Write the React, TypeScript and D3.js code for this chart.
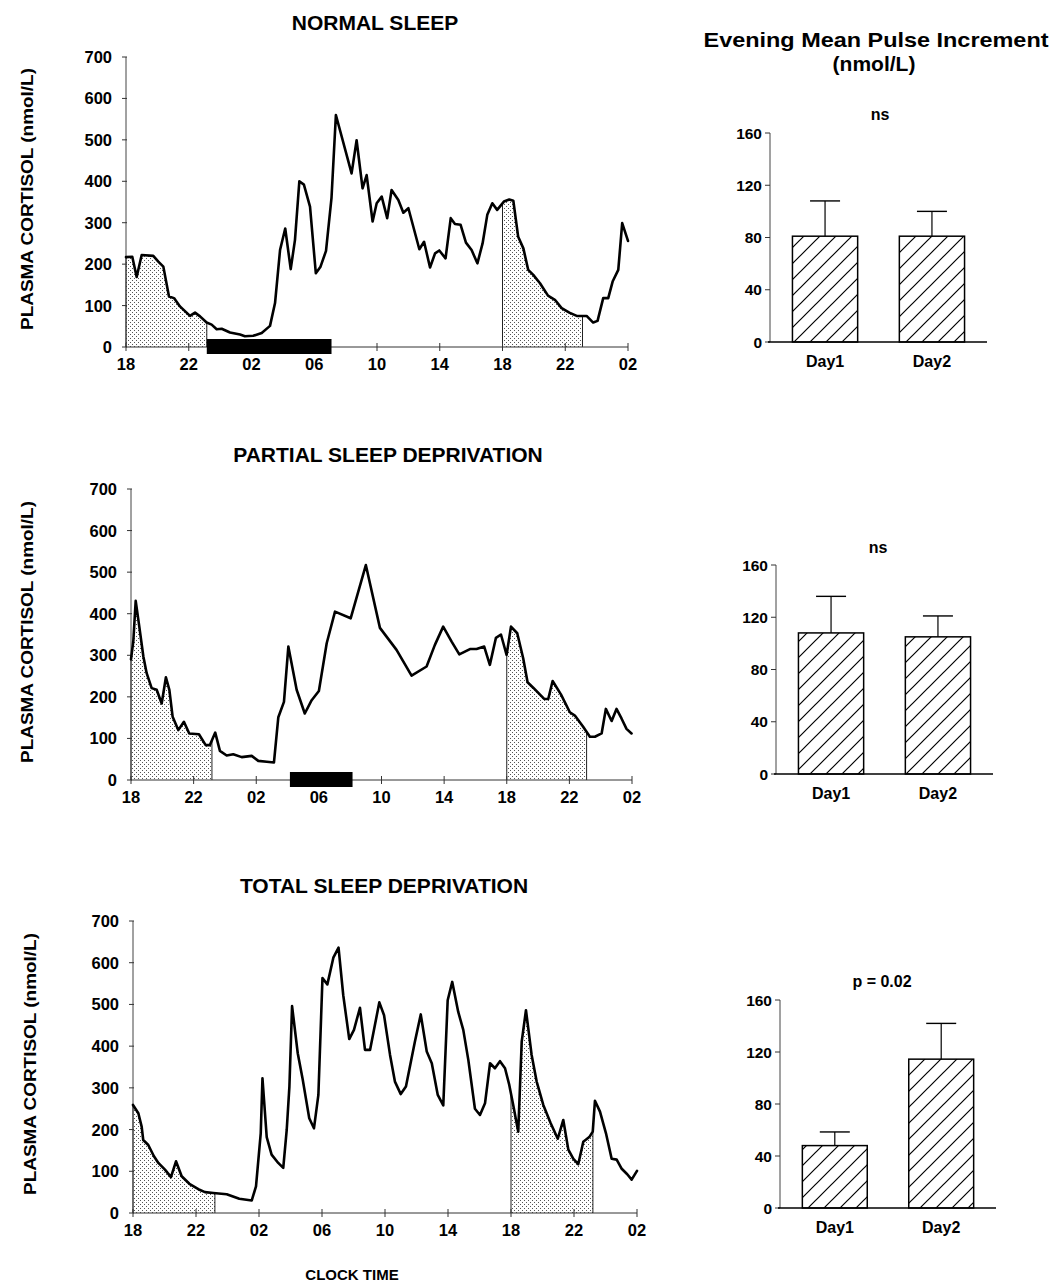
import React from 'react';
import * as d3 from 'd3';

// ---------- DATA ----------
const hourTicks = [0, 4, 8, 12, 16, 20, 24, 28, 32];
const hourTickLabels = ['18', '22', '02', '06', '10', '14', '18', '22', '02'];
const cortisolTicks = [0, 100, 200, 300, 400, 500, 600, 700];

// hours elapsed since 18:00 on day 1
const normalHours = [0, 0.4, 0.68, 1.0, 1.74, 2.06, 2.38, 2.74, 3.06, 3.44, 4.08, 4.4, 4.72, 5.14, 5.46, 5.78, 6.1, 6.63, 7.27, 7.58, 8.11, 8.65, 9.18, 9.5, 9.82, 10.15, 10.5, 10.77, 11.05, 11.34, 11.73, 12.1, 12.4, 12.75, 13.1, 13.38, 14.38, 14.7, 15.08, 15.34, 15.72, 15.98, 16.3, 16.65, 16.93, 17.36, 17.68, 18.0, 18.7, 19.0, 19.38, 19.7, 19.97, 20.37, 20.7, 20.97, 21.33, 21.67, 22.03, 22.4, 22.73, 23.03, 23.35, 23.66, 24.09, 24.43, 24.69, 25.0, 25.33, 25.64, 25.96, 26.39, 26.9, 27.34, 27.77, 28.26, 28.73, 29.36, 29.78, 30.06, 30.42, 30.74, 31.02, 31.38, 31.63, 32.0];
const normalValues = [217, 218, 169, 222, 220, 206, 194, 122, 118, 98, 75, 83, 74, 59, 54, 43, 44, 35, 30, 26, 27, 34, 51, 106, 234, 286, 188, 258, 400, 392, 339, 178, 194, 232, 360, 560, 419, 499, 383, 415, 303, 347, 363, 311, 379, 355, 324, 335, 236, 254, 192, 226, 233, 214, 311, 297, 295, 252, 234, 202, 250, 319, 347, 331, 351, 356, 353, 266, 238, 186, 174, 154, 124, 114, 94, 83, 75, 75, 59, 63, 118, 118, 158, 186, 299, 256];

const partialHours = [0, 0.15, 0.3, 0.53, 0.79, 1.0, 1.32, 1.64, 1.96, 2.23, 2.45, 2.66, 3.02, 3.38, 3.72, 4.34, 4.77, 5.04, 5.38, 5.68, 6.11, 6.53, 7.07, 7.71, 8.13, 8.67, 9.13, 9.41, 9.77, 10.05, 10.58, 11.1, 11.54, 12.0, 12.5, 13.03, 14.03, 15.0, 15.9, 16.96, 17.92, 18.88, 19.41, 19.94, 20.48, 20.97, 21.65, 22.07, 22.56, 22.92, 23.31, 23.63, 23.99, 24.27, 24.67, 25.05, 25.33, 25.69, 26.39, 26.65, 26.93, 27.46, 28.03, 28.35, 28.88, 29.31, 29.63, 30.06, 30.33, 30.7, 31.01, 31.33, 31.65, 31.97];
const partialValues = [290, 335, 431, 369, 297, 257, 221, 217, 184, 247, 217, 152, 120, 140, 112, 110, 84, 84, 114, 70, 59, 62, 55, 58, 46, 44, 42, 151, 188, 321, 217, 160, 192, 214, 329, 405, 389, 517, 366, 313, 251, 273, 325, 369, 333, 302, 315, 315, 321, 277, 342, 350, 301, 369, 353, 293, 235, 222, 195, 195, 238, 206, 163, 155, 128, 104, 104, 112, 171, 142, 171, 148, 123, 112];

const totalHours = [0, 0.34, 0.55, 0.65, 0.97, 1.33, 1.61, 2.03, 2.41, 2.73, 3.09, 3.58, 4.15, 4.57, 5.1, 5.95, 6.75, 7.54, 7.81, 8.11, 8.22, 8.49, 8.8, 9.22, 9.54, 9.76, 9.93, 10.1, 10.46, 10.77, 11.19, 11.49, 11.77, 12.03, 12.34, 12.72, 13.05, 13.35, 13.73, 14.03, 14.41, 14.73, 15.05, 15.64, 15.94, 16.32, 16.63, 17.0, 17.33, 17.9, 18.27, 18.65, 18.97, 19.35, 19.7, 19.98, 20.27, 20.65, 20.97, 21.29, 21.71, 22.03, 22.35, 22.67, 22.98, 23.3, 23.62, 23.89, 24.14, 24.46, 24.68, 24.95, 25.31, 25.63, 26.05, 26.52, 26.97, 27.32, 27.64, 27.96, 28.27, 28.59, 28.97, 29.19, 29.33, 29.65, 30.03, 30.39, 30.71, 31.03, 31.38, 31.66, 32.0];
const totalValues = [259, 239, 207, 175, 163, 136, 120, 104, 86, 124, 88, 70, 57, 50, 48, 45, 34, 30, 64, 191, 323, 182, 140, 120, 108, 199, 303, 496, 383, 321, 227, 203, 283, 563, 548, 612, 636, 522, 417, 439, 492, 391, 391, 505, 474, 379, 315, 285, 303, 411, 476, 387, 359, 283, 258, 510, 554, 482, 439, 367, 250, 235, 263, 359, 347, 364, 347, 307, 259, 195, 411, 486, 379, 315, 259, 215, 178, 223, 152, 130, 117, 171, 182, 195, 269, 243, 191, 130, 128, 106, 93, 80, 101];

// evening windows (hours since 18:00) that are shaded
const normalShade = [[0, 5.15], [24, 29.1]];
const partialShade = [[0, 5.17], [24, 29.1]];
const totalShade = [[0, 5.2], [24, 29.2]];
// sleep periods (black bar)
const normalSleep = [[5.15, 13.1]];
const partialSleep = [[10.15, 14.15]];
const totalSleep: number[][] = [];

const panelTitles = ['NORMAL SLEEP', 'PARTIAL SLEEP DEPRIVATION', 'TOTAL SLEEP DEPRIVATION'];

const barCategories = ['Day1', 'Day2'];
const barTicks = [0, 40, 80, 120, 160];
const normalBarMeans = [81, 81];
const normalBarUpper = [108, 100];
const partialBarMeans = [108, 105];
const partialBarUpper = [136, 121];
const totalBarMeans = [48, 114.5];
const totalBarUpper = [58.5, 142];
const barSignif = ['ns', 'ns', 'p = 0.02'];

// ---------- LAYOUT ----------
const FONT = '"Liberation Sans", Arial, Helvetica, sans-serif';

const lineLayouts = [
  { id: 'n', x0: 126, x1: 628, yBase: 347, yTop: 57, titleX: 375, titleY: 30, labX: 27, labY: 199 },
  { id: 'p', x0: 131, x1: 632, yBase: 780, yTop: 489, titleX: 388, titleY: 462, labX: 27, labY: 632 },
  { id: 't', x0: 133, x1: 637, yBase: 1213, yTop: 921, titleX: 384, titleY: 893, labX: 30, labY: 1064 },
];

const barLayouts = [
  { axisX: 770, axisEnd: 987, yBase: 342, yTop: 133, sigY: 120, sigX: 880 },
  { axisX: 776, axisEnd: 993, yBase: 774, yTop: 565, sigY: 553, sigX: 878 },
  { axisX: 780, axisEnd: 996, yBase: 1208, yTop: 1000, sigY: 987, sigX: 882 },
];

function interp(hours: number[], values: number[], h: number) {
  const i = d3.bisectLeft(hours, h);
  if (i <= 0) return values[0];
  if (i >= hours.length) return values[values.length - 1];
  const t = (h - hours[i - 1]) / (hours[i] - hours[i - 1]);
  return values[i - 1] + t * (values[i] - values[i - 1]);
}

function LinePanel({ L, hours, values, shades, sleep, title }: any) {
  const x = d3.scaleLinear().domain([0, 32]).range([L.x0, L.x1]);
  const y = d3.scaleLinear().domain([0, 700]).range([L.yBase, L.yTop]);
  const pts: [number, number][] = hours.map((h: number, i: number) => [h, values[i]]);
  const line = d3.line<[number, number]>().x(d => x(d[0])).y(d => y(d[1]));
  const area = d3.area<[number, number]>().x(d => x(d[0])).y0(y(0)).y1(d => y(d[1]));
  return (
    <g>
      <defs>
        {shades.map((s: number[], i: number) => (
          <clipPath id={`clip-${L.id}-${i}`} key={i}>
            <rect x={x(s[0])} y={y(700)} width={x(s[1]) - x(s[0])} height={y(0) - y(700)} />
          </clipPath>
        ))}
      </defs>
      <text x={L.titleX} y={L.titleY} textAnchor="middle" fontFamily={FONT} fontWeight="bold" fontSize={21}>{title}</text>
      <text transform={`translate(${L.labX},${L.labY}) rotate(-90)`} textAnchor="middle" dominantBaseline="central"
        fontFamily={FONT} fontWeight="bold" fontSize={17} textLength={262} lengthAdjust="spacingAndGlyphs">PLASMA CORTISOL (nmol/L)</text>
      {shades.map((s: number[], i: number) => (
        <g key={i}>
          <path d={area(pts) || ''} fill="url(#stipple)" clipPath={`url(#clip-${L.id}-${i})`} />
          <line x1={x(s[0])} x2={x(s[0])} y1={y(0)} y2={y(interp(hours, values, s[0]))} stroke="#222" strokeWidth={1} />
          <line x1={x(s[1])} x2={x(s[1])} y1={y(0)} y2={y(interp(hours, values, s[1]))} stroke="#222" strokeWidth={1} />
        </g>
      ))}
      {/* y axis */}
      <line x1={x(0)} x2={x(0)} y1={y(0)} y2={y(700)} stroke="#444" strokeWidth={1} />
      {cortisolTicks.map(t => (
        <g key={t}>
          <line x1={x(0) - 4} x2={x(0) + 1} y1={y(t)} y2={y(t)} stroke="#333" strokeWidth={1} />
          <text x={x(0) - 14} y={y(t)} textAnchor="end" dominantBaseline="central" fontFamily={FONT} fontWeight="bold" fontSize={16.5}>{t}</text>
        </g>
      ))}
      {/* x axis */}
      <line x1={x(0)} x2={x(32)} y1={y(0)} y2={y(0)} stroke="#333" strokeWidth={1} />
      {hourTicks.map((t, i) => (
        <g key={t}>
          <line x1={x(t)} x2={x(t)} y1={y(0) - 4} y2={y(0) + 4} stroke="#333" strokeWidth={1} />
          <text x={x(t)} y={y(0) + 23} textAnchor="middle" fontFamily={FONT} fontWeight="bold" fontSize={16.5}>{hourTickLabels[i]}</text>
        </g>
      ))}
      {sleep.map((s: number[], i: number) => (
        <rect key={i} x={x(s[0])} y={y(0) - 8} width={x(s[1]) - x(s[0])} height={15} fill="#000" />
      ))}
      <path d={line(pts) || ''} fill="none" stroke="#000" strokeWidth={2.6} strokeLinejoin="round" strokeLinecap="round" />
    </g>
  );
}

function BarPanel({ L, means, upper, sig }: any) {
  const x = d3.scaleBand().domain(barCategories).range([L.axisX, L.axisEnd]).paddingInner(0.39).paddingOuter(0.21);
  const y = d3.scaleLinear().domain([0, 160]).range([L.yBase, L.yTop]);
  const bw = x.bandwidth();
  return (
    <g>
      <text x={L.sigX} y={L.sigY} textAnchor="middle" fontFamily={FONT} fontWeight="bold" fontSize={16}>{sig}</text>
      {barCategories.map((c, i) => {
        const cx = (x(c) as number) + bw / 2;
        return (
          <g key={c}>
            <line x1={cx} x2={cx} y1={y(means[i])} y2={y(upper[i])} stroke="#000" strokeWidth={1.2} />
            <line x1={cx - 15} x2={cx + 15} y1={y(upper[i])} y2={y(upper[i])} stroke="#000" strokeWidth={1.4} />
            <rect x={x(c)} y={y(means[i])} width={bw} height={y(0) - y(means[i])} fill="url(#hatch)" stroke="#000" strokeWidth={1.5} />
            <text x={cx} y={L.yBase + 25} textAnchor="middle" fontFamily={FONT} fontWeight="bold" fontSize={16}>{c}</text>
          </g>
        );
      })}
      <line x1={L.axisX} x2={L.axisX} y1={y(0)} y2={y(160)} stroke="#444" strokeWidth={1} />
      {barTicks.map(t => (
        <g key={t}>
          <line x1={L.axisX - 5} x2={L.axisX} y1={y(t)} y2={y(t)} stroke="#333" strokeWidth={1} />
          <text x={L.axisX - 8} y={y(t)} textAnchor="end" dominantBaseline="central" fontFamily={FONT} fontWeight="bold" fontSize={15.5}>{t}</text>
        </g>
      ))}
      <line x1={L.axisX - 2} x2={L.axisEnd} y1={y(0)} y2={y(0)} stroke="#000" strokeWidth={1.5} />
    </g>
  );
}

export default function App() {
  const series = [
    { hours: normalHours, values: normalValues, shades: normalShade, sleep: normalSleep },
    { hours: partialHours, values: partialValues, shades: partialShade, sleep: partialSleep },
    { hours: totalHours, values: totalValues, shades: totalShade, sleep: totalSleep },
  ];
  const bars = [
    { means: normalBarMeans, upper: normalBarUpper },
    { means: partialBarMeans, upper: partialBarUpper },
    { means: totalBarMeans, upper: totalBarUpper },
  ];
  return (
    <svg width={1055} height={1283} style={{ position: 'absolute', left: 0, top: 0, background: '#fff' }}>
      <defs>
        <pattern id="stipple" width={4} height={4} patternUnits="userSpaceOnUse">
          <rect x={0} y={0} width={1} height={1} fill="#555" />
          <rect x={2} y={2} width={1} height={1} fill="#555" />
        </pattern>
        <pattern id="hatch" width={16} height={16} patternUnits="userSpaceOnUse">
          <path d="M0,16 L16,0 M-4,4 L4,-4 M12,20 L20,12" stroke="#000" strokeWidth={1.2} />
        </pattern>
      </defs>
      <rect x={0} y={0} width={1055} height={1283} fill="#fff" />
      {series.map((s, i) => (
        <LinePanel key={i} L={lineLayouts[i]} {...s} title={panelTitles[i]} />
      ))}
      <text x={876} y={47} textAnchor="middle" fontFamily={FONT} fontWeight="bold" fontSize={21} textLength={345} lengthAdjust="spacingAndGlyphs">Evening Mean Pulse Increment</text>
      <text x={874} y={71} textAnchor="middle" fontFamily={FONT} fontWeight="bold" fontSize={21}>(nmol/L)</text>
      {bars.map((b, i) => (
        <BarPanel key={i} L={barLayouts[i]} {...b} sig={barSignif[i]} />
      ))}
      <text x={352} y={1280} textAnchor="middle" fontFamily={FONT} fontWeight="bold" fontSize={15}>CLOCK TIME</text>
    </svg>
  );
}
